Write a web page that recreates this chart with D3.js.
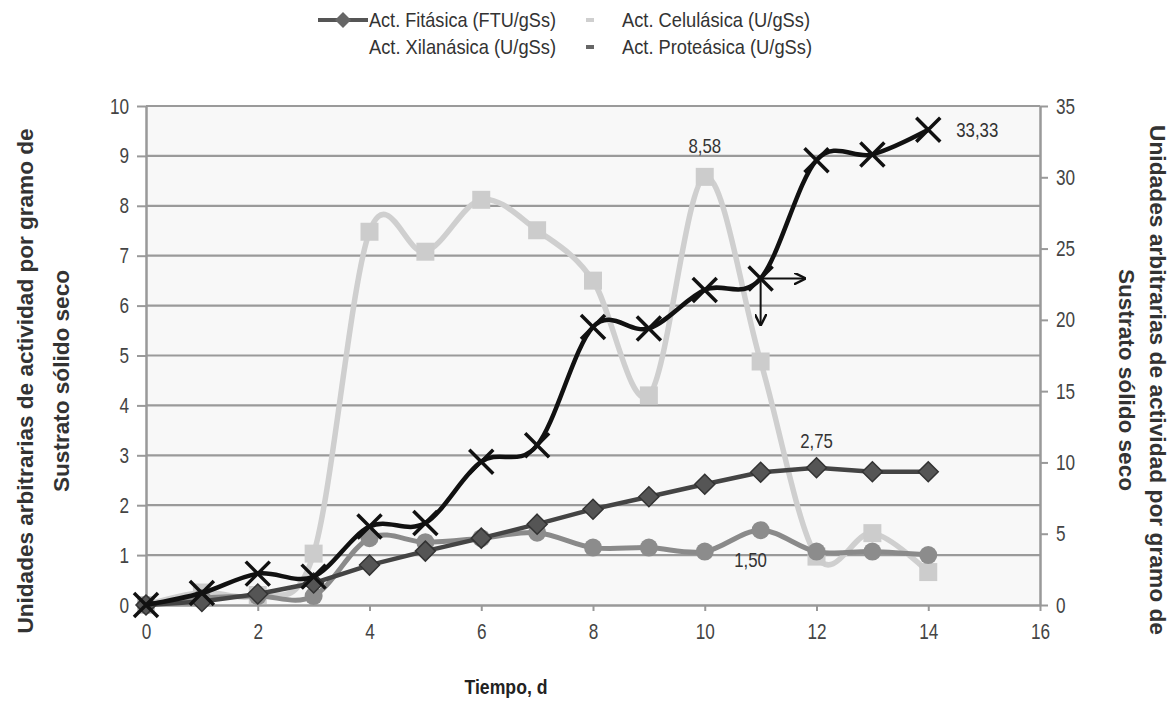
<!DOCTYPE html>
<html><head><meta charset="utf-8">
<script src="https://cdn.jsdelivr.net/npm/d3@7"></script>
<style>
html,body{margin:0;padding:0;background:#fff;}
svg text{font-family:"Liberation Sans","Arial",sans-serif;}
</style></head>
<body><svg id="c" width="1174" height="701"></svg>
<script>
const days = [0,1,2,3,4,5,6,7,8,9,10,11,12,13,14];
const fitasica = [0,0.07,0.22,0.44,0.8,1.08,1.34,1.62,1.92,2.17,2.42,2.66,2.75,2.67,2.67];
const celulasica = [0,0.25,0.2,1.03,7.48,7.08,8.12,7.51,6.5,4.2,8.58,4.88,0.97,1.44,0.66];
const xilanasica = [0,0.14,0.18,0.18,1.34,1.26,1.34,1.45,1.15,1.15,1.07,1.50,1.07,1.07,1.0];
const proteasica = [0,0.84,2.2,1.99,5.5,5.75,10.05,11.2,19.5,19.4,22.1,22.9,31.2,31.6,33.33];
const xTicks = [0,2,4,6,8,10,12,14,16];
const yLeftTicks = [0,1,2,3,4,5,6,7,8,9,10];
const yRightTicks = [0,5,10,15,20,25,30,35];
const legendNames = ["Act. Fitásica (FTU/gSs)","Act. Celulásica (U/gSs)","Act. Xilanásica (U/gSs)","Act. Proteásica (U/gSs)"];
const axisTitle = ["Unidades arbitrarias de actividad por gramo de","Sustrato sólido seco"];

const svg = d3.select("#c");
const L=146, R=1040, T=106, B=605;
const x = d3.scaleLinear().domain([0,16]).range([L,R]);
const yL = d3.scaleLinear().domain([0,10]).range([B,T]);
const yR = d3.scaleLinear().domain([0,35]).range([B,T]);

function narrow(sel, f){
  sel.each(function(){
    const len = this.getComputedTextLength();
    d3.select(this).attr("textLength", len*f).attr("lengthAdjust","spacingAndGlyphs");
  });
}

svg.append("rect").attr("x",L).attr("y",T).attr("width",R-L).attr("height",B-T).attr("fill","#f8f8f8");
svg.append("g").selectAll("line").data(yLeftTicks.filter(d=>d>0)).join("line")
  .attr("x1",L).attr("x2",R).attr("y1",d=>yL(d)).attr("y2",d=>yL(d))
  .attr("stroke","#9a9a9a").attr("stroke-width",2.2);

function styleAxis(g){
  g.select(".domain").attr("stroke","#999").attr("stroke-width",2.5);
  g.selectAll(".tick line").attr("stroke","#999").attr("stroke-width",2);
  g.selectAll(".tick text").attr("fill","#444").attr("font-size",22).call(narrow,0.78);
}
const gx = svg.append("g").attr("transform",`translate(0,${B})`)
  .call(d3.axisBottom(x).tickValues(xTicks).tickSize(6).tickSizeOuter(0).tickPadding(12));
styleAxis(gx);
const gl = svg.append("g").attr("transform",`translate(${L},0)`)
  .call(d3.axisLeft(yL).tickValues(yLeftTicks).tickSize(9).tickSizeOuter(0).tickPadding(8));
styleAxis(gl);
const gr = svg.append("g").attr("transform",`translate(${R},0)`)
  .call(d3.axisRight(yR).tickValues(yRightTicks).tickSize(8).tickSizeOuter(0).tickPadding(8));
styleAxis(gr);

const tl = svg.append("text").attr("transform","translate(0,381) rotate(-90)")
  .attr("text-anchor","middle").attr("fill","#333").attr("font-size",22).attr("font-weight","bold");
tl.append("tspan").attr("x",0).attr("y",33).text(axisTitle[0]).attr("textLength",505).attr("lengthAdjust","spacingAndGlyphs");
tl.append("tspan").attr("x",0).attr("y",69).text(axisTitle[1]).attr("textLength",222).attr("lengthAdjust","spacingAndGlyphs");
const tr = svg.append("text").attr("transform","translate(1174,380) rotate(90)")
  .attr("text-anchor","middle").attr("fill","#333").attr("font-size",22).attr("font-weight","bold");
tr.append("tspan").attr("x",0).attr("y",24).text(axisTitle[0]).attr("textLength",510).attr("lengthAdjust","spacingAndGlyphs");
tr.append("tspan").attr("x",0).attr("y",55).text(axisTitle[1]).attr("textLength",222).attr("lengthAdjust","spacingAndGlyphs");
svg.append("text").attr("x",506).attr("y",694).attr("text-anchor","middle")
  .attr("fill","#222").attr("font-size",21).attr("font-weight","bold").text("Tiempo, d").call(narrow,0.84);

const smooth = d3.curveCardinal.tension(0);
function series(vals, y, color, width, curve){
  const line = d3.line().x((d,i)=>x(days[i])).y(d=>y(d)).curve(curve);
  svg.append("path").attr("d",line(vals)).attr("fill","none").attr("stroke",color)
    .attr("stroke-width",width).attr("stroke-linejoin","round");
}
series(celulasica, yL, "#cfcfcf", 5.5, smooth);
svg.append("g").selectAll("rect").data(celulasica).join("rect")
  .attr("x",(d,i)=>x(days[i])-9).attr("y",d=>yL(d)-9).attr("width",18).attr("height",18).attr("fill","#cccccc");
series(xilanasica, yL, "#8a8a8a", 5, smooth);
svg.append("g").selectAll("circle").data(xilanasica).join("circle")
  .attr("cx",(d,i)=>x(days[i])).attr("cy",d=>yL(d)).attr("r",9).attr("fill","#8c8c8c");
series(fitasica, yL, "#444", 4.5, d3.curveLinear);
svg.append("g").selectAll("path").data(fitasica).join("path")
  .attr("d","M0,-10L10,0L0,10L-10,0Z").attr("transform",(d,i)=>`translate(${x(days[i])},${yL(d)})`)
  .attr("fill","#555").attr("stroke","#333").attr("stroke-width",1.5);
series(proteasica, yR, "#111", 4.5, smooth);
svg.append("g").selectAll("path").data(proteasica).join("path")
  .attr("d","M-12,-12L12,12M12,-12L-12,12").attr("transform",(d,i)=>`translate(${x(days[i])},${yR(d)})`)
  .attr("stroke","#111").attr("stroke-width",3.5).attr("fill","none");

const ax = x(days[11]), ay = yR(proteasica[11]);
svg.append("defs").append("marker").attr("id","ah").attr("viewBox","0 0 10 10").attr("refX",9).attr("refY",5)
  .attr("markerWidth",6).attr("markerHeight",6).attr("orient","auto")
  .append("path").attr("d","M0,0L10,5L0,10").attr("fill","none").attr("stroke","#111").attr("stroke-width",2);
svg.append("line").attr("x1",ax).attr("y1",ay).attr("x2",ax+44).attr("y2",ay)
  .attr("stroke","#111").attr("stroke-width",2).attr("marker-end","url(#ah)");
svg.append("line").attr("x1",ax).attr("y1",ay).attr("x2",ax).attr("y2",ay+46)
  .attr("stroke","#111").attr("stroke-width",2).attr("marker-end","url(#ah)");

const lbl = (tx,ty,t,anchor)=>svg.append("text").attr("x",tx).attr("y",ty).attr("text-anchor",anchor||"middle")
  .attr("fill","#333").attr("font-size",21).text(t).call(narrow,0.8);
lbl(x(10), yL(celulasica[10])-24, "8,58");
lbl(x(14)+28, yR(proteasica[14])+7, "33,33","start");
lbl(x(12), yL(fitasica[12])-20, "2,75");
lbl(x(11)-10, yL(xilanasica[11])+37, "1,50");

const lg = svg.append("g");
lg.append("line").attr("x1",318).attr("x2",368).attr("y1",20).attr("y2",20).attr("stroke","#555").attr("stroke-width",4);
lg.append("path").attr("d","M0,-8L8,0L0,8L-8,0Z").attr("transform","translate(343,20)").attr("fill","#666");
lg.append("rect").attr("x",586).attr("y",18).attr("width",8).attr("height",4).attr("fill","#cfcfcf");
lg.append("rect").attr("x",586).attr("y",45).attr("width",8).attr("height",4).attr("fill","#666");
const lt = [[369,27,0,187],[622,27,1,188],[369,54,2,187],[622,54,3,190]];
lg.selectAll("text").data(lt).join("text").attr("x",d=>d[0]).attr("y",d=>d[1])
  .attr("fill","#333").attr("font-size",21).text(d=>legendNames[d[2]])
  .attr("textLength",d=>d[3]).attr("lengthAdjust","spacingAndGlyphs");
</script></body></html>
